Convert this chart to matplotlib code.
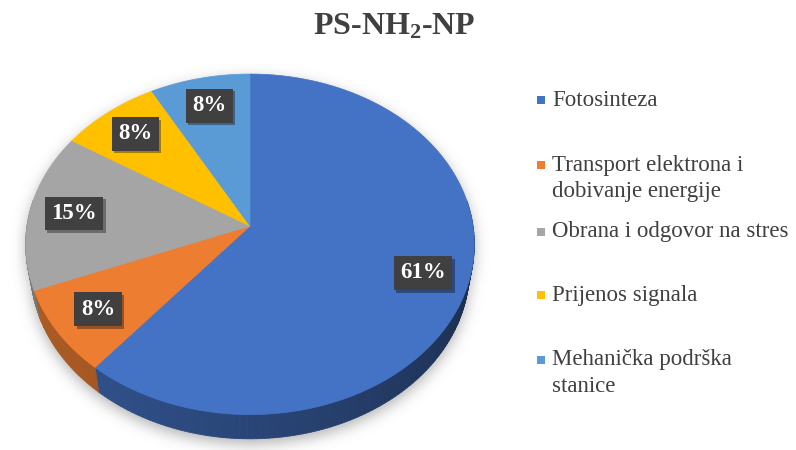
import numpy as np
import matplotlib
matplotlib.use("Agg")
import matplotlib.pyplot as plt
from matplotlib.collections import PolyCollection
from matplotlib.patches import Polygon, Rectangle
from matplotlib.path import Path
import matplotlib.patheffects as pe

title = r"PS-NH$_2$-NP"
categories = ["Fotosinteza", "Transport elektrona i\ndobivanje energije",
              "Obrana i odgovor na stres", "Prijenos signala",
              "Mehanička podrška\nstanice"]
shares = [61, 8, 15, 8, 8]
colors = ["#4472C4", "#ED7D31", "#A5A5A5", "#FFC000", "#5B9BD5"]

plt.rcParams["font.family"] = ["Liberation Serif", "DejaVu Serif"]
plt.rcParams["mathtext.default"] = "regular"

W, H = 796, 450
fig = plt.figure(figsize=(W / 100, H / 100), dpi=100)
ax = fig.add_axes([0, 0, 1, 1])
ax.set_xlim(0, W)
ax.set_ylim(H, 0)
ax.axis("off")

# simple perspective view of a flat disk (x right, y away from viewer, h up)
CX, CY, S = 250, 226, 223
TILT = np.radians(49)
DIST = 6.1
DEPTH = 0.18


def project(theta, r=1.0, h=0.0):
    x = r * np.cos(theta)
    y = r * np.sin(theta)
    d = DIST + y * np.cos(TILT) - h * np.sin(TILT)
    k = DIST / d
    return CX + S * x * k, CY - S * (y * np.sin(TILT) + h * np.cos(TILT)) * k


def rgb(c):
    c = c.lstrip("#")
    return np.array([int(c[i:i + 2], 16) for i in (0, 2, 4)]) / 255.0


# slice boundaries, clockwise from 12 o'clock
bounds = 90 - 360 * np.concatenate([[0], np.cumsum(shares)]) / sum(shares)

# soft shadow behind the pie
full = np.radians(np.linspace(0, 360, 361))
tx, ty = project(full)
bx, by = project(full, h=-DEPTH)
gx, gy = np.meshgrid(np.arange(W) + 0.5, np.arange(H) + 0.5)
pts = np.column_stack([gx.ravel(), gy.ravel() - 5])
mask = (Path(np.column_stack([tx, ty])).contains_points(pts) |
        Path(np.column_stack([bx, by])).contains_points(pts)).reshape(H, W).astype(float)
sig = 7.0
kx = np.arange(-25, 26)
kern = np.exp(-kx ** 2 / (2 * sig ** 2))
kern /= kern.sum()
blur = np.array([np.convolve(row, kern, mode="same") for row in mask])
blur = np.array([np.convolve(col, kern, mode="same") for col in blur.T]).T
shadow = np.zeros((H, W, 4))
shadow[..., :3] = 0.45
shadow[..., 3] = 0.55 * blur
ax.imshow(shadow, extent=(0, W, H, 0), zorder=0, interpolation="bilinear")


def shade(deg):
    return 0.55 + 0.17 * np.cos(np.radians(deg - 200))


# side wall, front half only
quads, qcols = [], []
for i, c in enumerate(colors):
    a0, a1 = bounds[i], bounds[i + 1]
    steps = np.linspace(a0, a1, max(int(abs(a1 - a0)), 2) + 1)
    for s0, s1 in zip(steps[:-1], steps[1:]):
        mid = (s0 + s1) / 2
        if np.sin(np.radians(mid)) > 0.15:
            continue
        t = np.radians([s0, s1])
        x0, y0 = project(t)
        x1, y1 = project(t, h=-DEPTH)
        quads.append([(x0[0], y0[0]), (x0[1], y0[1]), (x1[1], y1[1]), (x1[0], y1[0])])
        qcols.append(np.clip(rgb(c) * shade(mid % 360), 0, 1))
ax.add_collection(PolyCollection(quads, facecolors=qcols, edgecolors=qcols,
                                 linewidths=0.6, zorder=2))

# top face
for i, c in enumerate(colors):
    t = np.radians(np.linspace(bounds[i], bounds[i + 1], 200))
    px, py = project(t)
    verts = np.vstack([[CX, CY], np.column_stack([px, py])])
    ax.add_patch(Polygon(verts, closed=True, fc=c, ec=c, lw=0.5, zorder=3))

# value labels
for i, v in enumerate(shares):
    mid = np.radians((bounds[i] + bounds[i + 1]) / 2)
    lx, ly = project(mid, 0.8)
    txt = ax.text(lx, ly, f"{v}%", ha="center", va="center", color="white",
                  fontsize=16.5, fontweight="bold", zorder=5,
                  bbox=dict(boxstyle="square,pad=0.28", fc="#404040", ec="none"))
    txt.get_bbox_patch().set_path_effects(
        [pe.withSimplePatchShadow(offset=(2, -2), shadow_rgbFace="black", alpha=0.35),
         pe.Normal()])

ax.text(394, 27, title, ha="center", va="center", fontsize=23,
        fontweight="bold", color="#404040")

# legend
legend_y = [100, 165, 232, 295, 360]
for name, c, y0 in zip(categories, colors, legend_y):
    ax.add_patch(Rectangle((537, y0 - 4), 8, 8, fc=c, ec="none", zorder=4))
    for j, line in enumerate(name.split("\n")):
        ax.text(552, y0 + j * 27, line, ha="left", va="center",
                fontsize=16.5, color="#404040")

fig.savefig("out.png", dpi=100)
